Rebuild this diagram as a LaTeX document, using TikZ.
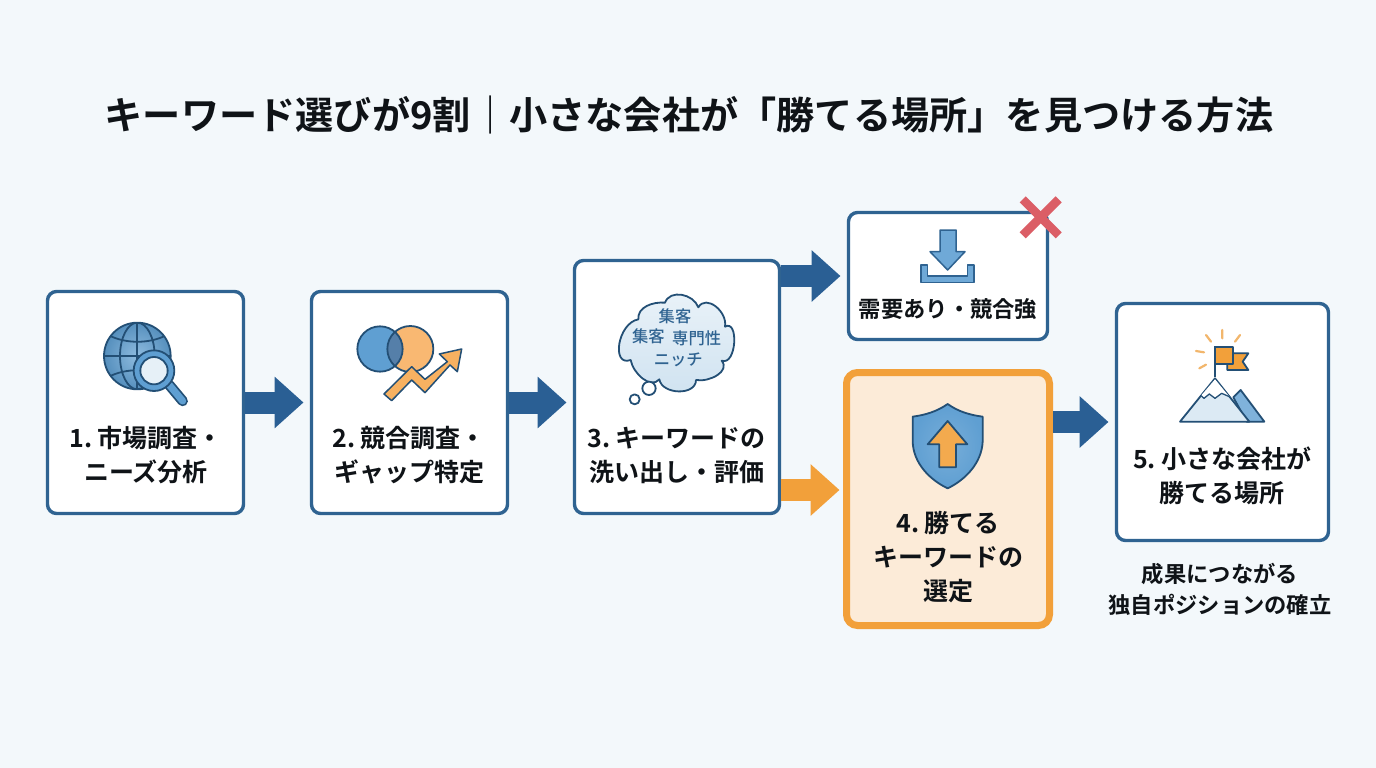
\documentclass[tikz,border=0pt]{standalone}
\usepackage{fontspec}
\setmainfont{Noto Sans CJK JP}[BoldFont={Noto Sans CJK JP Bold}]
\newfontfamily\cloudfont{Noto Sans CJK JP Medium}
\usetikzlibrary{arrows.meta}
\newcommand\tightspace{\spaceskip=0.13em\relax}
\definecolor{bgc}{HTML}{F3F8FB}
\definecolor{navy}{HTML}{2F6391}
\definecolor{arrowblue}{HTML}{2A5F94}
\definecolor{ink}{HTML}{0F1317}
\definecolor{orng}{HTML}{F2A03A}
\definecolor{peach}{HTML}{FCEBD8}
\definecolor{midblue}{HTML}{5F9FD2}
\definecolor{pale}{HTML}{DCEAF4}
\definecolor{darkline}{HTML}{234F75}
\definecolor{redx}{HTML}{DB5E66}
\definecolor{softorng}{HTML}{F9B872}
\definecolor{raycol}{HTML}{F2B66C}
\tikzset{
  x=1pt,y=-1pt,
  card/.style={draw=navy,line width=3.4pt,fill=white,rounded corners=9pt,inner sep=0,outer sep=0,rectangle},
  wincard/.style={draw=orng,line width=7pt,fill=peach,rounded corners=11pt,inner sep=0,outer sep=0,rectangle},
  lbl/.style={font=\bfseries\fontsize{25}{34}\selectfont\tightspace,text=ink,align=center,inner sep=0,outer sep=0},
  smalllbl/.style={font=\bfseries\fontsize{22.3}{31}\selectfont,text=ink,align=center,inner sep=0,outer sep=0},
  cloudlbl/.style={font=\cloudfont\fontsize{16.3}{18}\selectfont,text=navy,inner sep=0,outer sep=0},
  flow/.style={line width=22pt,draw=arrowblue,-{Triangle[length=29pt,width=50pt]},shorten >=8pt,shorten <=1.5pt},
  flowo/.style={flow,draw=orng},
  zoomat/.style 2 args={shift={(#1,#2)},x=0.33333pt,y=-0.33333pt},
  ic/.style={draw=darkline,line width=1.8pt,line join=round},
}
\begin{document}
\begin{tikzpicture}
\fill[bgc] (0,0) rectangle (1376,768);
\useasboundingbox (0,0) rectangle (1376,768);

\node[inner sep=0,font=\bfseries\fontsize{38.2}{42}\selectfont,text=ink] (title) at (689,115) {キーワード選びが9割｜小さな会社が「勝てる場所」を見つける方法};

% cards
\node[card,minimum width=196pt,minimum height=222pt] (n1) at (145.5,402.5) {};
\node[card,minimum width=196pt,minimum height=222pt] (n2) at (409.5,402.5) {};
\node[card,minimum width=205pt,minimum height=253pt] (n3) at (677,387) {};
\node[card,minimum width=199pt,minimum height=127pt] (nA) at (948,276) {};
\node[wincard,minimum width=203pt,minimum height=253pt] (n4) at (948,499) {};
\node[card,minimum width=212pt,minimum height=237pt] (n5) at (1222.5,422) {};

% connectors
\coordinate (lowin) at (n4.west |- 0,490);
\draw[flow] (n1.east) -- (n2.west);
\draw[flow] (n2.east) -- (n3.west |- n2.east);
\draw[flow] (n3.east |- nA.west) -- (nA.west);
\draw[flowo,shorten >=7pt] (n3.east |- lowin) -- (lowin);
\draw[flow,shorten <=3.5pt] (n4.east |- n5.west) -- (n5.west);

% labels
\node[lbl] (t1) at (146,455) {1. 市場調査・\\ニーズ分析};
\node[lbl] (t2) at (409,455) {2. 競合調査・\\ギャップ特定};
\node[lbl] (t3) at (677,455) {3. キーワードの\\洗い出し・評価};
\node[smalllbl] (tA) at (948,309) {需要あり・競合強};
\node[lbl] (t4) at (948,557) {4. 勝てる\\キーワードの\\選定};
\node[lbl] (t5) at (1222,476) {5. 小さな会社が\\勝てる場所};
\node[smalllbl] (t6) at (1220,589.5) {成果につながる\\独自ポジションの確立};

% icon 1: globe and magnifier
\begin{scope}[zoomat={40}{280}]
  \shade[inner color=midblue!70!white,outer color=midblue!90!black] (292,228) circle[radius=100];
  \begin{scope}
    \clip (292,228) circle[radius=100];
    \draw[ic] (292,128) -- (292,328);
    \draw[ic] (292,228) ellipse[x radius=52,y radius=100];
    \draw[ic] (192,228) -- (392,228);
    \draw[ic] (205,165) .. controls (255,192) and (330,192) .. (380,165);
    \draw[ic] (205,291) .. controls (255,264) and (330,264) .. (380,291);
  \end{scope}
  \draw[ic] (292,228) circle[radius=100];
  \draw[darkline,line width=10.5pt,line cap=round] (388,315) -- (428,363);
  \draw[midblue,line width=7pt,line cap=round] (388,315) -- (428,363);
  \draw[ic,fill=midblue] (342,272) circle[radius=61];
  \draw[ic,fill=pale!70!white] (342,272) circle[radius=41];
\end{scope}

% icon 2: overlapping circles and rising arrow
\begin{scope}[zoomat={310}{250}]
  \fill[midblue] (210,297) circle[radius=68];
  \fill[softorng] (301,297) circle[radius=69];
  \begin{scope}
    \clip (210,297) circle[radius=68];
    \fill[arrowblue!80!white] (301,297) circle[radius=69];
  \end{scope}
  \draw[ic] (210,297) circle[radius=68];
  \draw[ic] (301,297) circle[radius=69];
  \draw[ic,fill=softorng!70!orng,line width=1.5pt] (222,432) -- (305,350) -- (345,388) -- (412,335) -- (388,312) -- (455,297) -- (442,365) -- (420,345) -- (345,428) -- (305,390) -- (245,452) -- cycle;
\end{scope}

% icon 3: cloud
\begin{scope}[zoomat={570}{190}]
  \draw[ic,top color=pale!60!white,bottom color=pale!90!midblue]
    (182,510) to[out=200,in=190,looseness=1.3] (205,388)
    to[out=95,in=175] (285,338)
    to[out=70,in=110,looseness=1.1] (385,352)
    to[out=60,in=80,looseness=1.2] (465,410)
    to[out=30,in=340,looseness=1.2] (455,512)
    to[out=310,in=350,looseness=1.1] (378,570)
    to[out=270,in=280,looseness=1.1] (268,568)
    to[out=230,in=280,looseness=1] cycle;
  \draw[ic,fill=white] (237,595) circle[radius=20];
  \draw[ic,fill=white] (194,628) circle[radius=15];
  \node[cloudlbl] (c1) at (315,380) {集客};
  \node[cloudlbl] (c2) at (235,440) {集客};
  \node[cloudlbl] (c3) at (380,445) {専門性};
  \node[cloudlbl] (c4) at (325,510) {ニッチ};

  % icon A: download
  \draw[navy,line width=1.5pt,line join=round,fill=midblue!90!white] (1110,120) -- (1158,120) -- (1158,185) -- (1185,185) -- (1133,240) -- (1080,185) -- (1110,185) -- cycle;
  \draw[navy,line width=1.5pt,line join=round,fill=midblue!90!white] (1053,225) -- (1072,225) -- (1072,258) -- (1192,258) -- (1192,225) -- (1212,225) -- (1212,277) -- (1053,277) -- cycle;
  % red cross
  \draw[redx,line width=8.6pt] (1358,28) -- (1466,136);
  \draw[redx,line width=8.6pt] (1466,28) -- (1358,136);
\end{scope}

% icon 4: shield
\begin{scope}[zoomat={830}{360}]
  \draw[darkline,line width=1.8pt,line join=round,inner color=midblue!85!white,outer color=midblue] (353,132) .. controls (385,155) and (420,165) .. (458,170) -- (458,245) .. controls (455,310) and (405,360) .. (353,385) .. controls (300,360) and (250,310) .. (248,245) -- (248,170) .. controls (285,165) and (320,155) .. (353,132) -- cycle;
  \draw[ic,fill=orng!90!white] (353,183) -- (412,253) -- (378,253) -- (378,322) -- (328,322) -- (328,253) -- (293,253) -- cycle;
\end{scope}

% icon 5: mountain and flag
\begin{scope}[zoomat={1100}{290}]
  \draw[raycol,line width=2.2pt,line cap=round] (318,135) -- (333,155) (367,120) -- (367,145) (420,135) -- (405,155) (288,183) -- (312,187) (298,235) -- (318,224);
  \draw[ic,fill=orng] (382,190) -- (445,190) -- (428,215) -- (445,240) -- (382,240) -- cycle;
  \draw[ic,fill=orng] (345,170) rectangle (400,222);
  \draw[ic] (345,262) -- (345,167);
  \draw[ic,fill=midblue!80!white] (400,322) -- (422,300) -- (493,395) -- (440,395) -- cycle;
  \draw[ic,fill=pale] (240,395) -- (345,265) -- (448,395) -- cycle;
  \fill[white] (345,268) -- (388,320) -- (365,310) -- (345,325) -- (328,312) -- (310,325) -- (303,317) -- cycle;
  \draw[darkline,line width=1.3pt,line join=round] (303,317) -- (312,325) -- (328,312) -- (345,325) -- (365,310) -- (388,320);
\end{scope}
\end{tikzpicture}
\end{document}
